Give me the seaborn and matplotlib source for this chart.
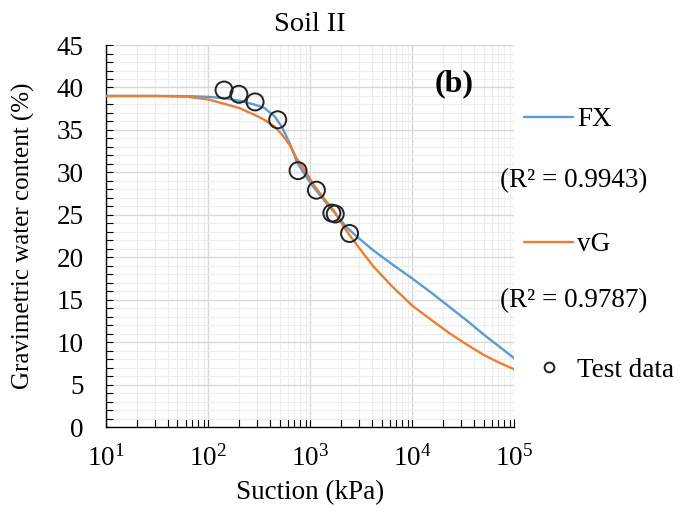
import matplotlib
matplotlib.use("Agg")
import matplotlib.pyplot as plt
import matplotlib.ticker as mticker
from matplotlib.lines import Line2D
import numpy as np
import pandas as pd
import seaborn as sns

# values
suction = [10, 32, 63, 100, 141, 200, 282, 355, 447, 525, 631, 741, 891,
           1072, 1349, 1698, 2239, 2884, 4169, 6310, 10000, 15849, 23442,
           35481, 50119, 70795, 100000]
fx_curve = [39.0, 39.0, 38.98, 38.9, 38.75, 38.45, 38.0, 37.6, 36.6, 35.4,
            33.4, 31.2, 29.7, 28.3, 26.8, 25.4, 23.6, 22.4, 20.8, 19.2, 17.5,
            15.7, 14.1, 12.4, 10.9, 9.5, 8.1]
vg_curve = [39.0, 39.0, 38.9, 38.6, 38.1, 37.6, 36.8, 36.2, 35.4, 34.5, 33.2,
            31.6, 30.2, 28.6, 27.0, 25.5, 23.2, 21.4, 18.9, 16.6, 14.3, 12.5,
            11.0, 9.6, 8.5, 7.6, 6.8]
test_suction = [143, 200, 288, 480, 760, 1150, 1630, 1760, 2430]
test_water = [39.7, 39.2, 38.3, 36.2, 30.2, 27.9, 25.2, 25.1, 22.8]
r2_fx, r2_vg = 0.9943, 0.9787

BLUE, ORANGE = "#5B9BD5", "#ED7D31"

sns.set_theme(style="white")
plt.rcParams.update({
    "font.family": ["Liberation Serif", "DejaVu Serif"],
    "mathtext.fontset": "custom",
    "mathtext.rm": "Liberation Serif",
    "mathtext.it": "Liberation Serif:italic",
    "text.color": "black", "axes.labelcolor": "black",
    "xtick.color": "black", "ytick.color": "black",
})

curves = pd.DataFrame({"suction": suction * 2,
                       "w": fx_curve + vg_curve,
                       "model": ["FX"] * len(suction) + ["vG"] * len(suction)})
tests = pd.DataFrame({"suction": test_suction, "w": test_water})

fig = plt.figure(figsize=(6.94, 5.12), dpi=100)
ax = fig.add_axes([0.153, 0.166, 0.588, 0.746])

sns.lineplot(data=curves, x="suction", y="w", hue="model",
             palette={"FX": BLUE, "vG": ORANGE}, linewidth=1.7,
             legend=False, ax=ax, zorder=3)
sns.scatterplot(data=tests, x="suction", y="w", marker="o", s=150,
                facecolor="none", edgecolor="#222222", linewidth=1.4,
                ax=ax, zorder=4)

ax.set_xscale("log")
ax.set_xlim(10, 1e5)
ax.set_ylim(0, 45)
ax.yaxis.set_major_locator(mticker.MultipleLocator(5))
ax.yaxis.set_minor_locator(mticker.MultipleLocator(1))
ax.xaxis.set_major_locator(mticker.LogLocator(base=10))
ax.xaxis.set_minor_locator(mticker.LogLocator(base=10, subs=np.arange(2, 10)))
ax.xaxis.set_minor_formatter(mticker.NullFormatter())
ax.xaxis.set_major_formatter(mticker.FuncFormatter(
    lambda v, p: r"$10^{%d}$" % round(np.log10(v))))

ax.grid(which="major", color="#d9d9d9", linewidth=1.0)
ax.grid(which="minor", color="#ededed", linewidth=0.8)
ax.set_axisbelow(True)
for side in ("top", "right"):
    ax.spines[side].set_visible(False)
for side in ("left", "bottom"):
    ax.spines[side].set_color("black")
    ax.spines[side].set_linewidth(1.0)

ax.tick_params(axis="both", which="both", direction="in", labelsize=19.5)
ax.tick_params(axis="x", which="both", bottom=True, length=6, width=0.8, pad=13)
ax.tick_params(axis="y", which="both", left=True, length=5, width=0.8, pad=16)

ax.set_xlabel("Suction (kPa)", fontsize=19.5, labelpad=6)
ax.set_ylabel("Gravimetric water content (%)", fontsize=18, labelpad=16)
ax.set_title("Soil II", fontsize=20.5, pad=10)
ax.text(0.853, 0.90, "(b)", transform=ax.transAxes, fontsize=23,
        fontweight="bold", ha="center", va="center")

handles = [Line2D([], [], color=BLUE, lw=1.7),
           Line2D([], [], color=ORANGE, lw=1.7),
           Line2D([], [], marker="o", ls="none", mfc="none", mec="#222222",
                  mew=1.4, ms=7)]
fig.legend(handles, ["FX", "vG", "Test data"], loc="upper left",
           bbox_to_anchor=(0.740, 0.812), frameon=False, fontsize=19.5,
           handlelength=1.8, handletextpad=0.15, labelspacing=3.7,
           borderaxespad=0)
fig.text(0.72, 0.648, f"(R² = {r2_fx})", fontsize=19.5, va="center")
fig.text(0.72, 0.413, f"(R² = {r2_vg})", fontsize=19.5, va="center")

fig.savefig("out.png", dpi=100)
